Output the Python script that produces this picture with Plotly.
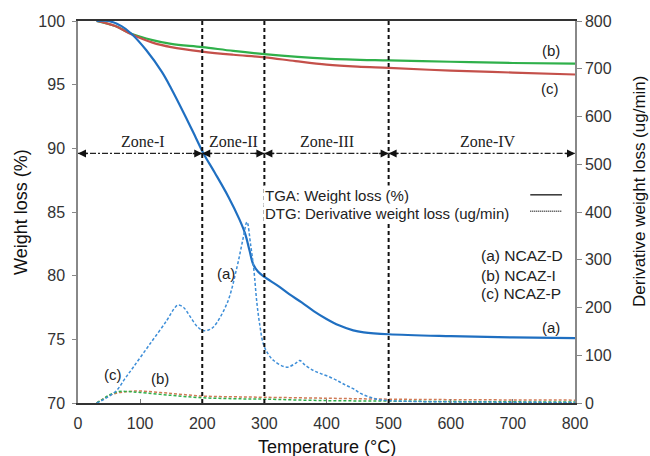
import plotly.graph_objects as go

# ---------------- data ----------------
T_a = [30, 49, 70, 86, 110, 135, 150, 172, 190, 202, 220, 242, 260, 269, 276, 282, 290, 300,
       322, 340, 360, 380, 400, 420, 443, 460, 500, 600, 700, 800]
tga_a = [100, 100, 99.6, 99.0, 97.7, 96.0, 94.7, 92.6, 90.8, 89.6, 88.1, 86.2, 84.4, 83.3, 82.0,
         80.9, 80.3, 79.9, 79.2, 78.55, 77.9, 77.2, 76.6, 76.1, 75.7, 75.55, 75.4, 75.25, 75.15, 75.1]

T_b = [30, 60, 86, 120, 150, 200, 250, 300, 400, 500, 600, 700, 800]
tga_b = [100, 99.6, 99.0, 98.5, 98.2, 97.95, 97.65, 97.4, 97.05, 96.9, 96.8, 96.7, 96.65]

T_c = [30, 60, 86, 120, 150, 200, 250, 300, 350, 400, 450, 500, 600, 700, 800]
tga_c = [100, 99.6, 98.95, 98.3, 97.95, 97.6, 97.35, 97.15, 96.85, 96.58, 96.42, 96.32, 96.1, 95.95, 95.8]

Td_a = [30, 45, 62, 75, 89, 116, 143, 155, 161, 170, 180, 192, 201, 210, 218, 240, 256, 265, 272,
        278, 283, 288, 293, 298, 305, 315, 336, 350, 357, 365, 379, 390, 406, 420, 430, 443, 455,
        470, 485, 500, 550, 650, 800]
dtg_a = [0, 10, 26, 50, 75, 124, 173, 198, 205, 200, 182, 160, 152, 153, 159, 209, 285, 340, 379,
         330, 280, 209, 160, 125, 105, 89, 75, 83, 89, 80, 68, 62, 54, 45, 38, 30, 20,
         12, 7, 5, 3, 2, 1]

Td_b = [30, 40, 52, 65, 80, 100, 150, 200, 250, 300, 400, 500, 600, 800]
dtg_b = [0, 8, 18, 24, 24, 22, 16, 11, 9, 8, 5, 4, 3, 2]

Td_c = [30, 45, 60, 80, 100, 150, 200, 250, 300, 400, 500, 600, 800]
dtg_c = [0, 12, 20, 24, 25, 20, 14.5, 13, 12, 10, 8, 7, 6]

zone_bounds = [0, 200, 300, 500, 800]
zone_names = ["Zone-I", "Zone-II", "Zone-III", "Zone-IV"]
zone_level = 89.6
divider_T = [200, 300, 500]

# ---------------- styles ----------------
BLUE = "#1f6fc1"
BLUE_D = "#3d8ed8"
GREEN = "#2fb04a"
RED = "#c4504a"
RED_D = "#cf7a55"
FONT = "Liberation Sans, Arial, sans-serif"
SERIF = "Liberation Serif, Times New Roman, serif"

fig = go.Figure()

# TGA curves (left axis)
fig.add_trace(go.Scatter(x=T_b, y=tga_b, mode="lines", line=dict(color=GREEN, width=2.2, shape="spline"), yaxis="y"))
fig.add_trace(go.Scatter(x=T_c, y=tga_c, mode="lines", line=dict(color=RED, width=2.2, shape="spline"), yaxis="y"))
fig.add_trace(go.Scatter(x=T_a, y=tga_a, mode="lines", line=dict(color=BLUE, width=2.2, shape="spline"), yaxis="y"))

# DTG curves (right axis)
fig.add_trace(go.Scatter(x=Td_c, y=dtg_c, mode="lines", line=dict(color=RED_D, width=1.5, dash="3px,2px", shape="spline"), yaxis="y2"))
fig.add_trace(go.Scatter(x=Td_b, y=dtg_b, mode="lines", line=dict(color=GREEN, width=1.5, dash="3px,2px", shape="spline"), yaxis="y2"))
fig.add_trace(go.Scatter(x=Td_a, y=dtg_a, mode="lines", line=dict(color=BLUE_D, width=1.5, dash="3px,2px", shape="spline"), yaxis="y2"))

shapes = []
annotations = []

# vertical dashed dividers
for xv in divider_T:
    shapes.append(dict(type="line", xref="x", yref="y", x0=xv, x1=xv, y0=70, y1=100,
                       line=dict(color="#111", width=2, dash="4px,3px"), layer="above"))

# zone arrows
for i, name in enumerate(zone_names):
    x0, x1 = zone_bounds[i], zone_bounds[i + 1]
    shapes.append(dict(type="line", xref="x", yref="y", x0=x0, x1=x1, y0=zone_level, y1=zone_level,
                       line=dict(color="#222", width=1.2, dash="6px,2px,2px,2px"), layer="above"))
    annotations.append(dict(x=x1, y=zone_level, xref="x", yref="y", ax=-11, ay=0, text="",
                            showarrow=True, arrowhead=2, arrowsize=1, arrowwidth=1.6,
                            arrowcolor="#111", standoff=0))
    annotations.append(dict(x=x0, y=zone_level, xref="x", yref="y", ax=11, ay=0, text="",
                            showarrow=True, arrowhead=2, arrowsize=1, arrowwidth=1.6,
                            arrowcolor="#111", standoff=0))
    annotations.append(dict(x=(x0 + x1) / 2 + (10 if i == 3 else 0) + (5 if i == 0 else 0), y=90.5,
                            xref="x", yref="y", text=name, showarrow=False,
                            font=dict(family=SERIF, size=16, color="#222"), yanchor="middle"))

# legend-like text box
annotations.append(dict(x=297, y=86.3, xref="x", yref="y", xanchor="left", yanchor="middle",
                        text="TGA: Weight loss (%)", showarrow=False, bgcolor="white",
                        font=dict(family=FONT, size=15, color="#222")))
annotations.append(dict(x=297, y=84.9, xref="x", yref="y", xanchor="left", yanchor="middle",
                        text="DTG: Derivative weight loss (ug/min)", showarrow=False, bgcolor="white",
                        font=dict(family=FONT, size=15, color="#222")))
shapes.append(dict(type="line", xref="x", yref="y", x0=728, x1=779, y0=86.35, y1=86.35,
                   line=dict(color="#333", width=1.5), layer="above"))
shapes.append(dict(type="line", xref="x", yref="y", x0=728, x1=779, y0=85.05, y1=85.05,
                   line=dict(color="#333", width=1.5, dash="1px,1px"), layer="above"))

# sample list
for yv, txt in [(81.6, "(a) NCAZ-D"), (80.0, "(b) NCAZ-I"), (78.6, "(c) NCAZ-P")]:
    annotations.append(dict(x=645, y=yv, xref="x", yref="y", xanchor="left", yanchor="middle",
                            text=txt, showarrow=False, font=dict(family=FONT, size=15.5, color="#222")))

# curve labels
for xv, yv, txt in [(762, 97.7, "(b)"), (760, 94.7, "(c)"), (761, 75.95, "(a)"),
                    (239, 80.15, "(a)"), (57, 72.2, "(c)"), (132, 71.9, "(b)")]:
    annotations.append(dict(x=xv, y=yv, xref="x", yref="y", text=txt, showarrow=False,
                            font=dict(family=FONT, size=15, color="#222")))

# axis titles
annotations.append(dict(x=0.5, y=0, xref="paper", yref="paper", text="Temperature (°C)",
                        showarrow=False, xanchor="center", yanchor="middle", yshift=-44,
                        font=dict(family=FONT, size=18, color="#111")))
annotations.append(dict(x=0, y=0.5, xref="paper", yref="paper", text="Weight loss (%)",
                        showarrow=False, textangle=-90, xanchor="center", yanchor="middle",
                        xshift=-57,
                        font=dict(family=FONT, size=18, color="#111")))
annotations.append(dict(x=1, y=0.5, xref="paper", yref="paper", text="Derivative weight loss (ug/min)",
                        showarrow=False, textangle=-90, xanchor="center", yanchor="middle",
                        xshift=64, yshift=20,
                        font=dict(family=FONT, size=17, color="#111")))

fig.update_layout(
    width=650, height=456,
    margin=dict(l=78, r=75, t=21, b=53),
    paper_bgcolor="white", plot_bgcolor="white",
    showlegend=False,
    font=dict(family=FONT, size=14, color="#222"),
    xaxis=dict(range=[0, 800], dtick=100, tick0=0, showgrid=False, zeroline=False,
               showline=True, linecolor="#333", linewidth=1.5, mirror=True,
               ticks="inside", ticklen=4, tickcolor="#777", ticklabelstandoff=5,
               tickfont=dict(family=FONT, size=16, color="#333")),
    yaxis=dict(range=[70, 100], dtick=5, tick0=70, showgrid=False, zeroline=False,
               showline=True, linecolor="#888", linewidth=1.5,
               ticks="outside", ticklen=4, tickcolor="#888", ticklabelstandoff=4,
               tickfont=dict(family=FONT, size=16, color="#333")),
    yaxis2=dict(range=[0, 800], dtick=100, tick0=0, overlaying="y", side="right",
                showgrid=False, zeroline=False,
                showline=True, linecolor="#888", linewidth=1.5,
                ticks="outside", ticklen=5, tickcolor="#888",
                tickfont=dict(family=FONT, size=16, color="#333")),
    shapes=shapes,
    annotations=annotations,
)

fig.write_html("out.html")
